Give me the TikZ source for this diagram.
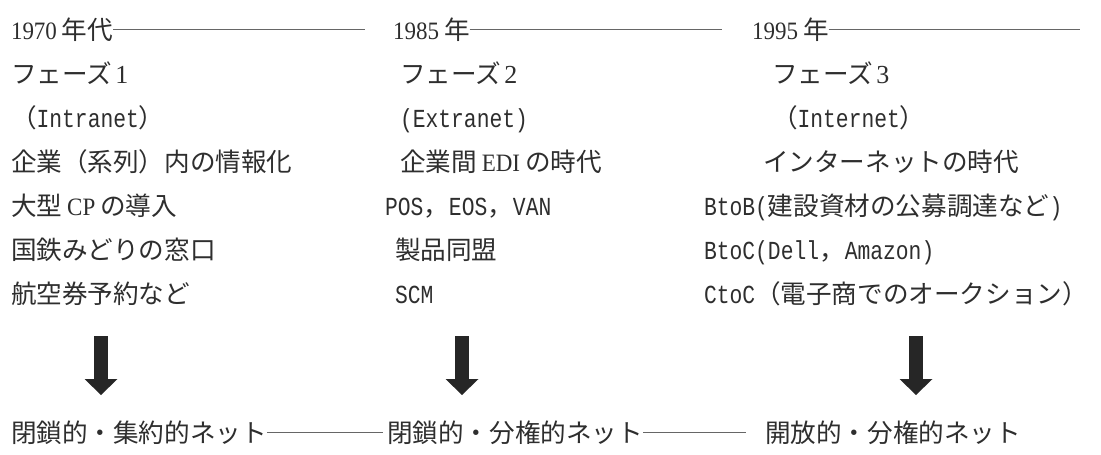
\documentclass[tikz,border=0pt]{standalone}
\usepackage{fontspec}
\setmainfont{Liberation Serif}
\newfontfamily\cjkf[Scale=1.28]{Noto Sans CJK JP}
\newfontfamily\monof[Scale=1.3,FakeStretch=0.82]{Liberation Mono}
\newfontfamily\bigserif[Scale=1.3]{Liberation Serif}
\newfontfamily\midserif[Scale=1.25,FakeStretch=0.92]{Liberation Serif}
\newcommand\JP[1]{{\cjkf #1}}
\newcommand\MN[1]{{\monof #1}}
\newcommand\BD[1]{{\bigserif #1}}
\newcommand\MD[1]{{\midserif #1}}
\usetikzlibrary{calc}
\tikzset{
  txt/.style={anchor=base west, inner sep=0pt, outer sep=0pt,
    font=\fontsize{20}{24}\selectfont, text=black!82},
  rule/.style={draw=black!60, line width=0.9pt},
  shaft/.style={draw=black!85, line width=14pt},
  headfill/.style={fill=black!85},
}
\begin{document}
\begin{tikzpicture}[x=1pt,y=-1pt]
\useasboundingbox (0,0) rectangle (1101,455);
\fill[white] (0,0) rectangle (1101,455);

% row 1
\node[txt] (r1c1) at (11,39.5) {\MD{1970} \JP{年代}};
\node[txt] (r1c2) at (393,39.5) {\MD{1985} \JP{年}};
\node[txt] (r1c3) at (752,39.5) {\MD{1995} \JP{年}};
\coordinate (e11) at (365,0);
\coordinate (e12) at (722,0);
\coordinate (e13) at (1080,0);
\draw[rule] (r1c1.east) -- (r1c1.east -| e11);
\draw[rule] (r1c2.east) -- (r1c2.east -| e12);
\draw[rule] (r1c3.east) -- (r1c3.east -| e13);

% row 2
\node[txt] (r2c1) at (11,83.5) {\JP{フェーズ}\,\BD{1}};
\node[txt] (r2c2) at (400,83.5) {\JP{フェーズ}\,\BD{2}};
\node[txt] (r2c3) at (772,83.5) {\JP{フェーズ}\,\BD{3}};

% row 3
\node[txt] (r3c1) at (11,127.5) {\JP{（}\MN{Intranet}\JP{）}};
\node[txt] (r3c2) at (400,127.5) {\MN{(Extranet)}};
\node[txt] (r3c3) at (772,127.5) {\JP{（}\MN{Internet}\JP{）}};

% row 4
\node[txt] (r4c1) at (11,171.5) {\JP{企業（系列）内の情報化}};
\node[txt] (r4c2) at (400,171.5) {\JP{企業間} \MD{EDI} \JP{の時代}};
\node[txt] (r4c3) at (763,171.5) {\JP{インターネットの時代}};

% row 5
\node[txt] (r5c1) at (11,215.5) {\JP{大型} \MD{CP} \JP{の導入}};
\node[txt] (r5c2) at (385,215.5) {\MN{POS}\JP{，}\MN{EOS}\JP{，}\MN{VAN}};
\node[txt] (r5c3) at (704,215.5) {\MN{BtoB(}\JP{建設資材の公募調達など}\MN{)}};

% row 6
\node[txt] (r6c1) at (11,259.5) {\JP{国鉄みどりの窓口}};
\node[txt] (r6c2) at (395,259.5) {\JP{製品同盟}};
\node[txt] (r6c3) at (704,259.5) {\MN{BtoC(Dell}\JP{，}\MN{Amazon)}};

% row 7
\node[txt] (r7c1) at (11,303.5) {\JP{航空券予約など}};
\node[txt] (r7c2) at (395,303.5) {\MN{SCM}};
\node[txt] (r7c3) at (704,303.5) {\MN{CtoC}\JP{（電子商でのオークション）}};

% arrows
\foreach \n/\x in {1/101,2/462,3/916}{
  \coordinate (a\n) at (\x,336);
  \coordinate (b\n) at (\x,379);
  \coordinate (t\n) at (\x,395);
  \draw[shaft] (a\n) -- ($(b\n)+(0,0.5)$);
  \fill[headfill] ($(b\n)+(-16.5,0)$) -- ($(b\n)+(16.5,0)$) -- (t\n) -- cycle;
}

% bottom row
\node[txt] (bc1) at (11,442.5) {\JP{閉鎖的・集約的ネット}};
\node[txt] (bc2) at (387,442.5) {\JP{閉鎖的・分権的ネット}};
\node[txt] (bc3) at (765,442.5) {\JP{開放的・分権的ネット}};
\coordinate (eb1) at (383,0);
\coordinate (eb2) at (746,0);
\draw[rule] (bc1.east) -- (bc1.east -| eb1);
\draw[rule] (bc2.east) -- (bc2.east -| eb2);
\end{tikzpicture}
\end{document}
